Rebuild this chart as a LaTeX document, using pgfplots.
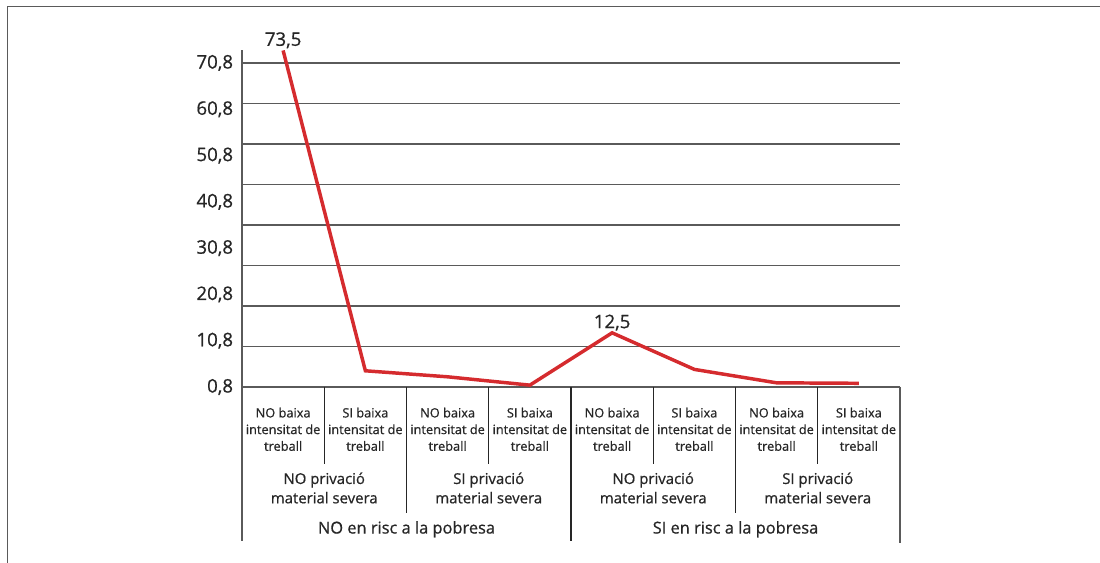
\documentclass[border=0pt]{standalone}
\usepackage{fontspec}
\setmainfont{Open Sans}[FakeBold=0.7]
\usepackage{pgfplots}
\pgfplotsset{compat=1.18}
\definecolor{linered}{HTML}{D52B2E}
\definecolor{gridgray}{HTML}{5A5A5A}
\definecolor{txt}{HTML}{262626}

\begin{document}
\begin{tikzpicture}
\begin{axis}[
    at={(0,0)}, anchor=south west,
    scale only axis,
    width=493.5pt, height=252.4pt,
    xmin=-0.5, xmax=7.5,
    ymin=0.8, ymax=73.5,
    clip=false,
    axis lines*=left,
    axis line style={gridgray, line width=1pt},
    xtick=\empty,
    ytick={0.8,10.8,20.8,30.8,40.8,50.8,60.8,70.8},
    minor ytick={9.55,18.3,27.05,35.8,44.55,53.3,62.05,70.8},
    yminorgrids=true, ymajorgrids=false,
    minor grid style={gridgray, line width=1pt},
    major tick length=0pt, minor tick length=0pt,
    yticklabel style={font=\fontsize{14}{16}\selectfont, text=txt, inner sep=0pt, xshift=-6.5pt},
    /pgf/number format/.cd, use comma, fixed, fixed zerofill, precision=1, assume math mode=true,
]
% percentatge per grup
\addplot[linered, line width=2.6pt] coordinates {
    (0,73.5) (1,4.3) (2,3.0) (3,1.2) (4,12.5) (5,4.6) (6,1.7) (7,1.6)
};
% etiquetes de dades
\addplot[draw=none, mark=none, nodes near coords, point meta=explicit symbolic,
    nodes near coords style={font=\fontsize{14}{16}\selectfont, text=txt, anchor=south, inner sep=1.5pt}]
    coordinates {(0,73.5) [{73,5}] (4,12.5) [{12,5}]};
\end{axis}

\begin{scope}[x=0.75pt, y=0.75pt]
\path[use as bounding box] (-242,-176) rectangle (858,387);
% marc
\draw[gridgray, line width=1.1pt] (858,380.5) -- (-234.5,380.5) -- (-234.5,-176);
% taula de categories
\draw[gridgray, line width=1pt] (0,0) -- (0,-154);
\foreach \k in {1,3,5,7} \draw[black!85, line width=0.8pt] ({82.25*\k},0) -- ++(0,-77);
\foreach \k in {2,6} \draw[black!85, line width=0.8pt] ({82.25*\k},0) -- ++(0,-126);
\draw[black!85, line width=0.8pt] (329,0) -- (329,-154.5);
\draw[gridgray, line width=1pt] (658,0) -- (658,-156);
\foreach \k/\t in {0/NO,1/SI,2/NO,3/SI,4/NO,5/SI,6/NO,7/SI}
  \node[align=center, text=txt, font=\fontsize{9.6}{12.5}\selectfont, inner sep=0pt]
    at ({41.125+82.25*\k},-42.3) {\t\ baixa\\intensitat de\\treball};
\foreach \k/\t in {0/NO,1/SI,2/NO,3/SI}
  \node[align=center, text=txt, font=\fontsize{11.2}{14.5}\selectfont, inner sep=0pt]
    at ({82.25+164.5*\k},-101) {\t\ privació\\material severa};
\node[text=txt, font=\fontsize{12.3}{14}\selectfont, inner sep=0pt] at (164.5,-142.3) {NO en risc a la pobresa};
\node[text=txt, font=\fontsize{12.3}{14}\selectfont, inner sep=0pt] at (493.5,-142.3) {SI en risc a la pobresa};
\end{scope}
\end{tikzpicture}
\end{document}
